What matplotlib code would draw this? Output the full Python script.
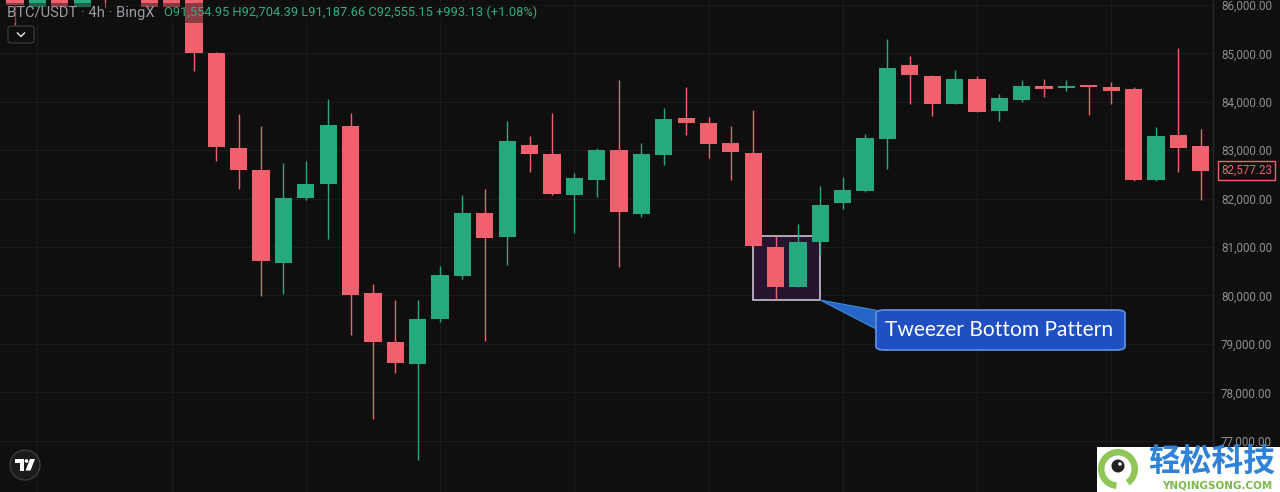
import matplotlib
matplotlib.use("Agg")
import matplotlib.pyplot as plt
from matplotlib.patches import Rectangle, FancyBboxPatch, Polygon, Circle, Wedge
from matplotlib.lines import Line2D
from matplotlib.transforms import blended_transform_factory

# ---------------- data ----------------
candle_index = list(range(-8, 46))
opens = [86300, 85960, 86300, 85960, 86500, 86600, 86400, 86300,
         86150, 85015, 83040, 82600, 80680, 82010, 82300, 83510, 80055, 79035,
         78585, 79510, 80395, 81710, 81200, 83100, 82915, 82080, 82385, 82998,
         81675, 82895, 83665, 83568, 83143, 82948, 81005, 80180, 81100, 81915,
         82150, 83230, 84760, 84540, 83960, 84470, 83810, 84030, 84330, 84280,
         84340, 84305, 84258, 82380, 83305, 83085]
highs = [86500, 86400, 86400, 86350, 86600, 86700, 86500, 86400,
         86400, 85030, 83740, 83510, 82730, 82770, 84060, 83760, 80240, 79900,
         79900, 80610, 82070, 82195, 83600, 83290, 83760, 82520, 83055, 84450,
         83140, 83880, 84315, 83692, 83505, 83830, 81235, 81475, 82260, 82445,
         83340, 85290, 84945, 84555, 84655, 84540, 84160, 84455, 84470, 84445,
         84355, 84410, 84310, 83485, 85105, 83440]
lows = [85420, 85950, 85940, 85950, 85940, 86150, 85950, 85950,
        84640, 82770, 82200, 79995, 80030, 81980, 81160, 79180, 77455, 78405,
        76600, 79450, 80335, 79055, 80630, 82545, 82070, 81285, 82040, 80595,
        81615, 82695, 83310, 82845, 82385, 81005, 79925, 80165, 80835, 81780,
        82135, 82610, 83960, 83705, 83950, 83790, 83610, 84000, 84095, 84225,
        83725, 83960, 82370, 82370, 82540, 81965]
closes = [86000, 86300, 85950, 86300, 86200, 86400, 85960, 85960,
          85015, 83060, 82590, 80710, 82020, 82310, 83520, 80000, 79030, 78600,
          79515, 80415, 81700, 81185, 83190, 82915, 82095, 82420, 82998, 81720,
          82915, 83650, 83555, 83135, 82964, 81020, 80180, 81100, 81870, 82170,
          83245, 84705, 84555, 83955, 84470, 83800, 84085, 84330, 84270, 84320,
          84310, 84230, 82380, 83295, 83055, 82577.23]

price_ticks = [77000, 78000, 79000, 80000, 81000, 82000, 83000, 84000, 85000, 86000]
price_tick_labels = ["77,000.00", "78,000.00", "79,000.00", "80,000.00", "81,000.00",
                     "82,000.00", "83,000.00", "84,000.00", "85,000.00", "86,000.00"]
time_grid_index = [-7, -1, 5, 11, 17, 23, 29, 35, 41]
last_price = 82577.23
last_price_label = "82,577.23"
header_symbol = "BTC/USDT · 4h · BingX"
header_ohlc = "O91,554.95 H92,704.39 L91,187.66 C92,555.15 +993.13 (+1.08%)"
callout_text = "Tweezer Bottom Pattern"
pattern_candles = (25, 28)
pattern_prices = (79905, 81230)
watermark_cn = "轻松科技"
watermark_en = "YNQINGSONG.COM"

# ---------------- style ----------------
W, H, DPI = 1280, 492, 100
BG = "#0f0f0f"
UP = "#26a97c"
DN = "#f0616d"
GRID = "#1b1b1b"
AXIS_TXT = "#8e8e8e"

fig = plt.figure(figsize=(W / DPI, H / DPI), dpi=DPI, facecolor=BG)
PLOT_R = 1213
ax = fig.add_axes([0, 0, PLOT_R / W, 1])
ax.set_facecolor(BG)

PX_PER_K = 48.41
X0, STEP = 194.0, 22.37


def y_to_price(y):
    return 86000 - (y - 5) / PX_PER_K * 1000


ax.set_ylim(y_to_price(H), y_to_price(0))
ax.set_xlim((0 - X0) / STEP, (PLOT_R - X0) / STEP)

# grid
ax.set_yticks(price_ticks)
ax.set_yticklabels(price_tick_labels)
ax.yaxis.tick_right()
ax.set_xticks(time_grid_index)
ax.set_xticklabels([])
ax.tick_params(axis="x", length=0)
ax.grid(True, color=GRID, linewidth=0.9)
ax.set_axisbelow(True)
for s in ["top", "left", "bottom"]:
    ax.spines[s].set_visible(False)
ax.spines["right"].set_color("#2a2a2a")
ax.spines["right"].set_linewidth(1.0)

fig.canvas.draw()
renderer = fig.canvas.get_renderer()


def fit_size(s, width, **kw):
    t = fig.text(0, 0, s, **kw)
    size = t.get_fontsize()
    for _ in range(4):
        bb = t.get_window_extent(renderer)
        size = size * width / bb.width
        t.set_fontsize(size)
    t.remove()
    return size


tick_fs = fit_size("86,000.00", 51, family="Roboto")
ax.tick_params(axis="y", length=0, pad=8 * 0.72, labelsize=tick_fs, labelcolor=AXIS_TXT)
for lab in ax.get_yticklabels():
    lab.set_fontfamily("Roboto")

# pattern rectangle (under candles)
ax.add_patch(Rectangle((pattern_candles[0], pattern_prices[0]),
                       pattern_candles[1] - pattern_candles[0],
                       pattern_prices[1] - pattern_prices[0],
                       facecolor="#27152f", edgecolor="#d8d2de", linewidth=1.1, zorder=1))

# candles
body_w = 0.77
min_h = 1.4 / PX_PER_K * 1000
for i, o, h, l, c in zip(candle_index, opens, highs, lows, closes):
    col = UP if c >= o else DN
    ax.vlines(i, l, h, color=col, linewidth=1.0, zorder=2)
    bot = min(o, c)
    hgt = max(abs(c - o), min_h)
    ax.add_patch(Rectangle((i - body_w / 2, bot), body_w, hgt, facecolor=col,
                           edgecolor="none", zorder=3))

# last price label
bt = blended_transform_factory(ax.transAxes, ax.transData)
ax.text(1221 / PLOT_R, last_price, last_price_label, transform=bt, color=DN,
        fontsize=tick_fs, family="Roboto", va="center", ha="left", clip_on=False,
        bbox=dict(boxstyle="square,pad=0.25", facecolor=BG, edgecolor=DN, linewidth=1.0),
        zorder=10)


def fx(x):
    return x / W


def fy(y):
    return 1 - y / H


# header overlay + text
fig.patches.append(Rectangle((fx(2), fy(23)), fx(545) - fx(2), fy(3) - fy(23),
                             transform=fig.transFigure, facecolor=BG, alpha=0.45,
                             edgecolor="none", zorder=5))
hs1 = fit_size(header_symbol, 147, family="Roboto")
fig.text(fx(7), fy(12.5), header_symbol, fontsize=hs1, family="Roboto", color="#9b9da3",
         va="center", ha="left", zorder=6)
hs2 = fit_size(header_ohlc, 372, family="Roboto")
fig.text(fx(164), fy(12.5), header_ohlc, fontsize=hs2, family="Roboto", color="#2fae86",
         va="center", ha="left", zorder=6)

# dropdown button
fig.patches.append(FancyBboxPatch((fx(8), fy(43)), fx(34) - fx(8), fy(26) - fy(43),
                                  boxstyle="round,pad=0,rounding_size=0.004",
                                  transform=fig.transFigure, facecolor=BG,
                                  edgecolor="#363636", linewidth=1.0, zorder=6))
fig.lines.append(Line2D([fx(17.5), fx(21), fx(24.5)], [fy(33), fy(36.5), fy(33)],
                        transform=fig.transFigure, color="#d8d8d8", linewidth=1.1, zorder=7))

# callout wedge + box
fig.patches.append(Polygon([(fx(820), fy(300)), (fx(880), fy(311)), (fx(878), fy(330))],
                           closed=True, transform=fig.transFigure, facecolor="#2766c9",
                           edgecolor="#3d8ad6", linewidth=0.8, zorder=6))
fig.patches.append(FancyBboxPatch((fx(876), fy(350)), fx(1125) - fx(876), fy(310) - fy(350),
                                  boxstyle="round,pad=0,rounding_size=0.007",
                                  transform=fig.transFigure, facecolor="#1f4fc2",
                                  edgecolor="#5a8edd", linewidth=1.3, zorder=7))
cfs = fit_size(callout_text, 228, family="Lato")
fig.text(fx(999), fy(330), callout_text, fontsize=cfs, family="Lato", color="white",
         va="center", ha="center", zorder=8)

# TradingView logo (small square axes, pixel coords 9..41 x 449..481)
tax = fig.add_axes([fx(9), fy(481), 32 / W, 32 / H])
tax.set_xlim(0, 32)
tax.set_ylim(32, 0)
tax.axis("off")
tax.set_zorder(6)
tax.patch.set_alpha(0)
tax.add_patch(Circle((16, 16), 15, facecolor="#1b1b1b", edgecolor="#3c3c3c", linewidth=1.0))
tax.add_patch(Polygon([(6, 10), (14.5, 10), (14.5, 21.5), (10.5, 21.5), (10.5, 14), (6, 14)],
                      closed=True, facecolor="white", edgecolor="none"))
tax.add_patch(Circle((17.5, 12), 1.8, facecolor="white", edgecolor="none"))
tax.add_patch(Polygon([(21, 10), (26, 10), (21.5, 21.5), (16.5, 21.5)],
                      closed=True, facecolor="white", edgecolor="none"))

# watermark
fig.patches.append(Rectangle((fx(1097), 0), 1 - fx(1097), fy(447), transform=fig.transFigure,
                             facecolor="white", edgecolor="none", zorder=8))
wfs = fit_size(watermark_cn, 127, family="Noto Sans CJK SC", weight="bold")
fig.text(fx(1211.5), fy(462), watermark_cn, fontsize=wfs, family="Noto Sans CJK SC",
         weight="bold", color="#2f82d6", va="center", ha="center", zorder=9)
efs = fit_size(watermark_en, 110, family="DejaVu Sans", weight="bold")
fig.text(fx(1217), fy(485.5), watermark_en, fontsize=efs, family="DejaVu Sans",
         weight="bold", color="#7db84a", va="center", ha="center", zorder=9)

lax = fig.add_axes([fx(1096), fy(491), 44 / W, 44 / H])
lax.set_xlim(0, 44)
lax.set_ylim(44, 0)
lax.axis("off")
lax.set_zorder(10)
lax.patch.set_alpha(0)
lax.add_patch(Wedge((22, 22), 20, 95, 415, width=6.5, facecolor="#8fc656", edgecolor="none"))
lax.add_patch(Circle((22, 19), 6.5, facecolor="#222222", edgecolor="none"))
lax.add_patch(Circle((24, 17), 1.8, facecolor="white", edgecolor="none"))

fig.savefig("out.png", dpi=DPI, facecolor=BG)
